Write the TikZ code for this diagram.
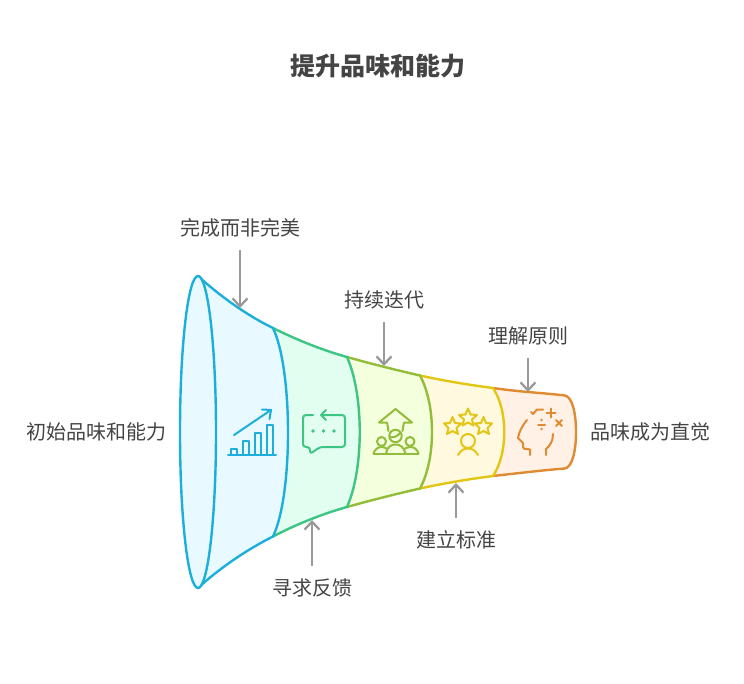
\documentclass[tikz,border=0pt]{standalone}
\usepackage{xcolor}
\usepackage{fontspec}
\setmainfont{Noto Sans CJK SC}
\usepackage{tikz}
\usetikzlibrary{arrows.meta}
\usetikzlibrary{positioning}
\definecolor{txtgray}{HTML}{444444}
\definecolor{arrgray}{HTML}{999999}
\definecolor{lineA}{HTML}{1EAEDB}
\definecolor{fillA}{HTML}{E8F9FF}
\definecolor{lineB}{HTML}{3CC583}
\definecolor{fillB}{HTML}{E2FEF1}
\definecolor{lineC}{HTML}{92BD39}
\definecolor{fillC}{HTML}{F4FFDE}
\definecolor{lineD}{HTML}{E3C613}
\definecolor{fillD}{HTML}{FFF9DF}
\definecolor{lineE}{HTML}{E08A32}
\definecolor{fillE}{HTML}{FFF1E6}
\tikzstyle{lbl} = [draw=none, inner sep=0pt, outer sep=0pt, text=txtgray, font=\fontsize{20}{24}\selectfont]
\tikzstyle{ttl} = [draw=none, inner sep=0pt, text=txtgray, font=\fontsize{25}{30}\selectfont\bfseries]
\tikzstyle{flow} = [-{Straight Barb[length=8pt, width=15pt]}, draw=arrgray, line width=2.3pt, shorten <=13pt]
\tikzstyle{seg} = [line width=2.4pt, line join=round]
\tikzstyle{icon} = [line width=2pt, line cap=round, line join=round]

\begin{document}
\begin{tikzpicture}[x=1pt, y=-1pt]
\useasboundingbox (0, 0) rectangle (744, 684);
\node [ttl] (title) at (378, 66.5) {提升品味和能力};
% funnel, right to left
\filldraw [seg, draw=lineE, fill=fillE] (493, 388) .. controls (520, 392) and (545, 393) .. (565, 395.5) .. controls (572, 397) and (576, 412) .. (576, 432) .. controls (576, 452) and (572, 467) .. (565, 468.5) .. controls (545, 470) and (520, 473) .. (493, 476) -- cycle;
\filldraw [seg, draw=lineD, fill=fillD] (420, 375.5) .. controls (445, 381) and (470, 385) .. (493, 388) .. controls (508, 410) and (508, 454) .. (493, 476) .. controls (470, 479) and (445, 483) .. (420, 488.5) -- cycle;
\filldraw [seg, draw=lineC, fill=fillC] (347, 357) .. controls (372, 364) and (396, 370) .. (420, 375.5) .. controls (436, 405) and (436, 459) .. (420, 488.5) .. controls (396, 494) and (372, 500) .. (347, 507) -- cycle;
\filldraw [seg, draw=lineB, fill=fillB] (273, 328) .. controls (297, 340) and (322, 350) .. (347, 357) .. controls (364, 395) and (364, 469) .. (347, 507) .. controls (322, 514) and (297, 524) .. (273, 536.5) -- cycle;
\filldraw [seg, draw=lineA, fill=fillA] (198, 276) .. controls (222, 298) and (250, 317) .. (273, 328) .. controls (293, 370) and (293, 495) .. (273, 536.5) .. controls (250, 548) and (222, 566) .. (198, 588) -- cycle;
\filldraw [seg, draw=lineA, fill=fillA] (198, 432) ellipse [x radius=18, y radius=156];
% chart icon
\draw [icon, draw=lineA] (228, 454.5) -- (276, 454.5);
\draw [icon, draw=lineA] (231, 454) -- (231, 449) -- (237, 449) -- (237, 454);
\draw [icon, draw=lineA] (243, 454) -- (243, 441) -- (249, 441) -- (249, 454);
\draw [icon, draw=lineA] (255, 454) -- (255, 433) -- (261, 433) -- (261, 454);
\draw [icon, draw=lineA] (267, 454) -- (267, 425) -- (273, 425) -- (273, 454);
\draw [icon, draw=lineA] (234, 435) -- (271, 410);
\draw [icon, draw=lineA] (262, 409.5) -- (271, 410) -- (269.5, 419);
% chat icon
\draw [icon, draw=lineB, rounded corners=3pt] (313, 415) -- (303, 415) -- (303, 447) -- (310, 447) -- (310, 454) -- (320, 447) -- (345, 447) -- (345, 415) -- (321, 415);
\draw [icon, draw=lineB] (326, 410) -- (321, 415) -- (326, 420);
\fill [lineB] (313, 431) circle (1.9);
\fill [lineB] (323.5, 431) circle (1.9);
\fill [lineB] (334, 431) circle (1.9);
% team icon
\draw [icon, draw=lineC] (388.5, 431) .. controls (388, 428) and (387.5, 425) .. (387, 422.5) -- (379, 422.5) -- (395.5, 409) -- (412, 422.5) -- (404, 422.5) .. controls (403.5, 425) and (403, 428) .. (402.5, 431);
\draw [icon, draw=lineC] (395.5, 436) circle (6.2);
\draw [icon, draw=lineC] (390, 437) .. controls (394, 438) and (398, 436) .. (400.5, 432.5);
\draw [icon, draw=lineC] (381.5, 441.5) circle (4.5);
\draw [icon, draw=lineC] (410, 441.5) circle (4.5);
\draw [icon, draw=lineC] (373.5, 454) -- (418.5, 454);
\draw [icon, draw=lineC] (386, 453.5) .. controls (387, 447) and (391, 444.5) .. (395.5, 444.5) .. controls (400, 444.5) and (404, 447) .. (405.5, 453.5);
\draw [icon, draw=lineC] (373.5, 453.5) .. controls (375, 449) and (378, 447) .. (382, 447) .. controls (384, 447) and (386, 448) .. (387, 449);
\draw [icon, draw=lineC] (418.5, 453.5) .. controls (417, 449) and (414, 447) .. (410, 447) .. controls (408, 447) and (406, 448) .. (404.5, 449);
% stars icon
\draw [icon, draw=lineD] (452.5, 417) -- (455, 423) -- (461, 423.5) -- (456.5, 428) -- (458, 434) -- (452.5, 431) -- (447, 434) -- (448.5, 428) -- (444, 423.5) -- (450, 423) -- cycle;
\draw [icon, draw=lineD] (468, 408.5) -- (470.5, 414.5) -- (477, 415) -- (472, 419.5) -- (473.5, 425.5) -- (468, 422.5) -- (462.5, 425.5) -- (464, 419.5) -- (459, 415) -- (465.5, 414.5) -- cycle;
\draw [icon, draw=lineD] (483.5, 417) -- (486, 423) -- (492, 423.5) -- (487.5, 428) -- (489, 434) -- (483.5, 431) -- (478, 434) -- (479.5, 428) -- (475, 423.5) -- (481, 423) -- cycle;
\draw [icon, draw=lineD] (468, 441) circle (7);
\draw [icon, draw=lineD] (458, 455) .. controls (461, 450) and (464, 448.5) .. (468, 448.5) .. controls (472, 448.5) and (475, 450) .. (478, 455);
% head icon
\draw [icon, draw=lineE] (527, 420) .. controls (522, 426) and (519, 432) .. (518, 438) -- (523, 443) -- (523, 447) .. controls (523, 449) and (525, 449) .. (527, 449) -- (530, 449.5) -- (530, 455);
\draw [icon, draw=lineE] (553, 434) .. controls (553, 441) and (550, 446) .. (546, 449) -- (546, 455);
\draw [icon, draw=lineE] (531, 412) -- (533, 414) -- (537, 409.5) -- (543, 409.5);
\draw [icon, draw=lineE] (546.5, 413) -- (555.5, 413);
\draw [icon, draw=lineE] (551, 408.5) -- (551, 417.5);
\draw [icon, draw=lineE] (556, 420) -- (562, 426);
\draw [icon, draw=lineE] (562, 420) -- (556, 426);
\draw [icon, draw=lineE] (538, 424.5) -- (545, 424.5);
\fill [lineE] (541.5, 420) circle (1.4);
\fill [lineE] (541.5, 429) circle (1.4);
% labels
\node [lbl] (start) at (96, 432) {初始品味和能力};
\node [lbl] (finish) at (650, 432) {品味成为直觉};
\node [lbl] (done) at (240, 228) {完成而非完美};
\node [lbl] (iterate) at (384, 300) {持续迭代};
\node [lbl] (rules) at (528, 336) {理解原则};
\node [lbl] (seek) at (312, 588) {寻求反馈};
\node [lbl] (standard) at (456, 540) {建立标准};
\coordinate (doneTip) at (240, 308);
\coordinate (iterateTip) at (384, 366);
\coordinate (rulesTip) at (528, 392);
\coordinate (seekTip) at (312, 520);
\coordinate (standardTip) at (456, 483);
\draw [flow] (done) -- (doneTip);
\draw [flow] (iterate) -- (iterateTip);
\draw [flow] (rules) -- (rulesTip);
\draw [flow] (seek) -- (seekTip);
\draw [flow] (standard) -- (standardTip);
\end{tikzpicture}
\end{document}
